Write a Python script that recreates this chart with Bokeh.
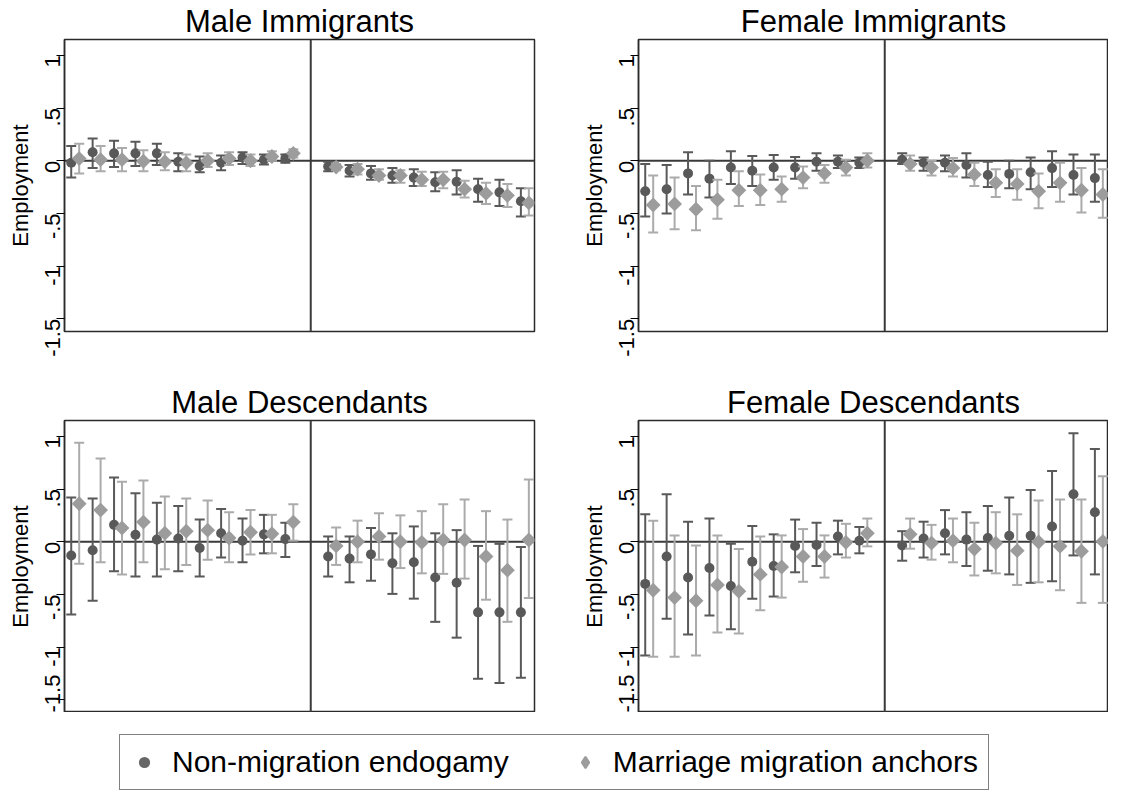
import numpy as np
from bokeh.plotting import figure
from bokeh.layouts import column, row
from bokeh.models import (Span, FixedTicker, Legend, LegendItem,
                          ColumnDataSource, Range1d)
from bokeh.embed import file_html
from bokeh.resources import INLINE

# ---------------- data ----------------
EVENT_TIME = [-11, -10, -9, -8, -7, -6, -5, -4, -3, -2, -1,
              1, 2, 3, 4, 5, 6, 7, 8, 9, 10]
SERIES = ["Non-migration endogamy", "Marriage migration anchors"]
PANEL_TITLES = ["Male Immigrants", "Female Immigrants",
                "Male Descendants", "Female Descendants"]
Y_TICKS = [-1.5, -1, -0.5, 0, 0.5, 1]
Y_TICK_LABELS = ["-1.5", "-1", "-.5", "0", ".5", "1"]

# Male Immigrants
MI_END = [-0.02, 0.08, 0.07, 0.07, 0.07, -0.01, -0.05, -0.02, 0.03, 0.01, 0.02,
          -0.055, -0.095, -0.12, -0.14, -0.16, -0.205, -0.20, -0.27, -0.30, -0.385]
MI_END_LO = [-0.16, -0.07, -0.06, -0.05, -0.04, -0.10, -0.11, -0.09, -0.03, -0.035, -0.02,
             -0.10, -0.15, -0.18, -0.21, -0.24, -0.29, -0.32, -0.39, -0.43, -0.53]
MI_END_HI = [0.14, 0.21, 0.19, 0.18, 0.16, 0.07, 0.04, 0.05, 0.08, 0.06, 0.06,
             -0.01, -0.04, -0.05, -0.07, -0.08, -0.11, -0.09, -0.17, -0.18, -0.26]
MI_ANC = [0.02, 0.01, 0.01, -0.005, -0.01, -0.02, 0.0, 0.02, 0.0, 0.04, 0.07,
          -0.06, -0.08, -0.14, -0.14, -0.18, -0.18, -0.27, -0.31, -0.33, -0.40]
MI_ANC_LO = [-0.12, -0.10, -0.10, -0.10, -0.09, -0.10, -0.06, -0.04, -0.05, 0.0, 0.03,
             -0.09, -0.13, -0.18, -0.21, -0.24, -0.26, -0.35, -0.41, -0.44, -0.52]
MI_ANC_HI = [0.16, 0.14, 0.12, 0.10, 0.08, 0.06, 0.07, 0.08, 0.06, 0.09, 0.11,
             -0.03, -0.03, -0.08, -0.09, -0.105, -0.105, -0.19, -0.21, -0.22, -0.26]

# Female Immigrants
FI_END = [-0.29, -0.27, -0.12, -0.17, -0.065, -0.095, -0.065, -0.065, -0.01, -0.01, -0.02,
          0.01, -0.02, -0.02, -0.04, -0.135, -0.125, -0.11, -0.07, -0.135, -0.165]
FI_END_LO = [-0.53, -0.50, -0.32, -0.35, -0.22, -0.24, -0.18, -0.17, -0.095, -0.07, -0.07,
             -0.03, -0.095, -0.10, -0.16, -0.25, -0.26, -0.27, -0.25, -0.32, -0.39]
FI_END_HI = [-0.03, -0.04, 0.08, 0.0, 0.09, 0.045, 0.055, 0.035, 0.07, 0.05, 0.03,
             0.07, 0.03, 0.05, 0.07, -0.01, 0.0, 0.03, 0.09, 0.06, 0.06]
FI_ANC = [-0.42, -0.41, -0.46, -0.37, -0.28, -0.28, -0.27, -0.16, -0.12, -0.065, 0.0,
          -0.03, -0.065, -0.07, -0.13, -0.21, -0.22, -0.29, -0.21, -0.28, -0.32]
FI_ANC_LO = [-0.68, -0.65, -0.66, -0.55, -0.43, -0.42, -0.39, -0.26, -0.21, -0.14, -0.065,
             -0.095, -0.14, -0.15, -0.24, -0.345, -0.37, -0.45, -0.39, -0.49, -0.54]
FI_ANC_HI = [-0.14, -0.16, -0.24, -0.18, -0.10, -0.13, -0.15, -0.055, -0.04, 0.01, 0.07,
             0.05, 0.0, 0.025, -0.02, -0.08, -0.08, -0.12, -0.02, -0.07, -0.08]

# Male Descendants
MD_END = [-0.13, -0.08, 0.16, 0.066, 0.02, 0.03, -0.06, 0.08, 0.01, 0.07, 0.025,
          -0.14, -0.16, -0.12, -0.205, -0.195, -0.34, -0.39, -0.67, -0.67, -0.67]
MD_END_LO = [-0.69, -0.56, -0.28, -0.33, -0.33, -0.28, -0.33, -0.15, -0.195, -0.11, -0.145,
             -0.33, -0.385, -0.37, -0.495, -0.54, -0.76, -0.91, -1.30, -1.34, -1.29]
MD_END_HI = [0.42, 0.41, 0.61, 0.46, 0.37, 0.34, 0.21, 0.31, 0.22, 0.255, 0.18,
             0.05, 0.05, 0.13, 0.08, 0.145, 0.08, 0.11, -0.04, -0.02, -0.05]
MD_ANC = [0.36, 0.30, 0.13, 0.186, 0.08, 0.10, 0.11, 0.035, 0.09, 0.076, 0.186,
          -0.04, 0.0, 0.05, 0.0, -0.006, 0.016, 0.016, -0.14, -0.27, 0.016]
MD_ANC_LO = [-0.21, -0.195, -0.31, -0.195, -0.26, -0.22, -0.17, -0.195, -0.12, -0.11, 0.01,
             -0.22, -0.195, -0.17, -0.25, -0.30, -0.305, -0.35, -0.55, -0.76, -0.535]
MD_ANC_HI = [0.94, 0.79, 0.57, 0.58, 0.43, 0.41, 0.39, 0.28, 0.30, 0.255, 0.356,
             0.135, 0.20, 0.27, 0.25, 0.29, 0.356, 0.40, 0.29, 0.21, 0.59]

# Female Descendants
FD_END = [-0.40, -0.14, -0.34, -0.25, -0.42, -0.19, -0.23, -0.04, -0.03, 0.05, 0.01,
          -0.035, 0.03, 0.08, 0.02, 0.035, 0.057, 0.057, 0.145, 0.45, 0.28]
FD_END_LO = [-1.08, -0.73, -0.88, -0.70, -0.83, -0.54, -0.52, -0.29, -0.23, -0.12, -0.11,
             -0.18, -0.15, -0.12, -0.23, -0.275, -0.31, -0.39, -0.375, -0.13, -0.31]
FD_END_HI = [0.26, 0.45, 0.19, 0.22, -0.02, 0.15, 0.07, 0.21, 0.18, 0.20, 0.14,
             0.10, 0.19, 0.30, 0.28, 0.34, 0.42, 0.49, 0.67, 1.03, 0.88]
FD_ANC = [-0.46, -0.53, -0.56, -0.41, -0.47, -0.31, -0.24, -0.14, -0.14, -0.006, 0.08,
          0.07, -0.013, 0.01, -0.07, -0.013, -0.085, -0.003, -0.044, -0.09, 0.003]
FD_ANC_LO = [-1.09, -1.09, -1.08, -0.86, -0.87, -0.65, -0.53, -0.38, -0.34, -0.15, -0.044,
             -0.066, -0.17, -0.195, -0.32, -0.30, -0.41, -0.385, -0.46, -0.58, -0.58]
FD_ANC_HI = [0.20, 0.06, -0.035, 0.06, -0.07, 0.05, 0.06, 0.12, 0.06, 0.17, 0.22,
             0.22, 0.16, 0.22, 0.18, 0.28, 0.26, 0.39, 0.40, 0.40, 0.62]

PANEL_DATA = [
    (MI_END, MI_END_LO, MI_END_HI, MI_ANC, MI_ANC_LO, MI_ANC_HI),
    (FI_END, FI_END_LO, FI_END_HI, FI_ANC, FI_ANC_LO, FI_ANC_HI),
    (MD_END, MD_END_LO, MD_END_HI, MD_ANC, MD_ANC_LO, MD_ANC_HI),
    (FD_END, FD_END_LO, FD_END_HI, FD_ANC, FD_ANC_LO, FD_ANC_HI),
]

# ---------------- style ----------------
FONT = "Liberation Sans"
DARK = "#595959"
LIGHT_MARK = "#9c9c9c"
LIGHT_BAR = "#ababab"
FRAME = "#2b2b2b"
OFFSET = 0.186
FRAME_W, FRAME_H = 470, 292
BORDER_L, GAP_R = 64, 40
TOP_B, MID_B = 38, 50
LEGEND_H = 789 - 2 * (TOP_B + FRAME_H) - MID_B


def make_panel(idx):
    title = PANEL_TITLES[idx]
    end, end_lo, end_hi, anc, anc_lo, anc_hi = PANEL_DATA[idx]
    top_row = idx < 2
    left_col = idx % 2 == 0
    p = figure(title=title, frame_width=FRAME_W, frame_height=FRAME_H,
               x_range=Range1d(-11.5, 10.45), y_range=Range1d(-1.62, 1.15),
               x_axis_location=None, output_backend="svg", toolbar_location=None,
               min_border_left=BORDER_L, min_border_right=GAP_R if left_col else 0,
               min_border_top=TOP_B, min_border_bottom=MID_B if top_row else 0,
               background_fill_color="white", border_fill_color="white")
    p.grid.visible = False
    p.outline_line_color = FRAME
    p.outline_line_width = 1.5
    p.title.align = "center"
    p.title.text_font = FONT
    p.title.text_font_size = "31px"
    p.title.text_font_style = "normal"
    p.title.text_color = "black"
    p.title.standoff = 2

    ax = p.yaxis[0]
    ax.ticker = FixedTicker(ticks=Y_TICKS)
    ax.major_label_overrides = {float(t): l for t, l in zip(Y_TICKS, Y_TICK_LABELS)}
    ax.major_label_orientation = np.pi / 2
    ax.major_label_text_font = FONT
    ax.major_label_text_font_size = "22px"
    ax.major_label_text_color = "black"
    ax.major_label_standoff = 4
    ax.major_tick_in = 0
    ax.major_tick_out = 8
    ax.minor_tick_in = 0
    ax.minor_tick_out = 0
    ax.major_tick_line_color = "black"
    ax.axis_line_color = FRAME
    ax.axis_line_width = 1.5
    ax.axis_label = "Employment"
    ax.axis_label_text_font = FONT
    ax.axis_label_text_font_size = "22px"
    ax.axis_label_text_font_style = "normal"
    ax.axis_label_text_color = "black"
    ax.axis_label_standoff = 2

    p.add_layout(Span(location=0, dimension="width", line_color="#3a3a3a",
                      line_width=2, level="underlay"))
    p.add_layout(Span(location=0, dimension="height", line_color="#3a3a3a",
                      line_width=2, level="underlay"))

    t = np.array(EVENT_TIME, dtype=float)
    src_end = ColumnDataSource(dict(x=t - OFFSET, y=end, lo=end_lo, hi=end_hi))
    src_anc = ColumnDataSource(dict(x=t + OFFSET, y=anc, lo=anc_lo, hi=anc_hi))

    for src, bar_col in ((src_end, DARK), (src_anc, LIGHT_BAR)):
        p.segment(x0="x", y0="lo", x1="x", y1="hi", source=src,
                  line_color=bar_col, line_width=2)
        p.scatter(x="x", y="hi", source=src, marker="dash", size=10,
                  line_color=bar_col, line_width=2)
        p.scatter(x="x", y="lo", source=src, marker="dash", size=10,
                  line_color=bar_col, line_width=2)
        if src is src_end:
            p.scatter(x="x", y="y", source=src, marker="circle", size=10,
                      fill_color=DARK, line_color=None)
    p.scatter(x="x", y="y", source=src_anc, marker="square", size=10.5,
              angle=np.pi / 4, fill_color=LIGHT_MARK, line_color=None)
    return p


panels = [make_panel(i) for i in range(4)]

# ---------------- legend ----------------
leg = figure(width=1108, height=LEGEND_H, x_range=Range1d(0, 1), y_range=Range1d(0, 1),
             x_axis_location=None, y_axis_location=None, min_border=0,
             output_backend="svg", toolbar_location=None)
leg.grid.visible = False
leg.outline_line_color = None
r1 = leg.scatter(x=[-5], y=[-5], marker="circle", size=10,
                 fill_color="#666666", line_color=None)
r2 = leg.scatter(x=[-5], y=[-5], marker="diamond", size=10,
                 fill_color=LIGHT_MARK, line_color=LIGHT_MARK, line_width=2)
legend = Legend(items=[LegendItem(label=SERIES[0], renderers=[r1]),
                       LegendItem(label=SERIES[1], renderers=[r2])],
                orientation="horizontal", location="bottom_center", margin=1,
                padding=10, spacing=62, label_standoff=14,
                glyph_width=28, glyph_height=28,
                label_text_font=FONT, label_text_font_size="30px",
                label_text_color="black",
                border_line_color="black", border_line_width=1.5,
                background_fill_color="white", background_fill_alpha=1)
leg.add_layout(legend, "center")

layout = column(row(panels[0], panels[1]), row(panels[2], panels[3]), leg)

with open("out.html", "w") as f:
    f.write(file_html(layout, INLINE))
